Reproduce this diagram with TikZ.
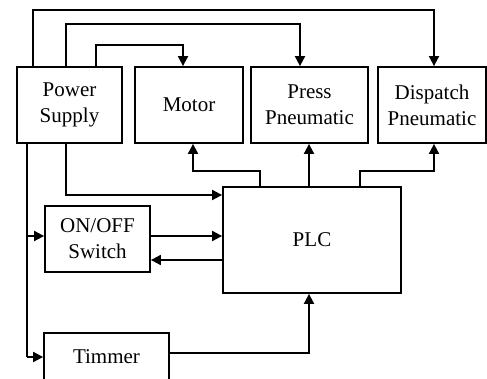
\documentclass[tikz,border=0pt]{standalone}
\usepackage{fontspec}
\setmainfont{Liberation Serif}
\usetikzlibrary{arrows.meta}
\begin{document}
\begin{tikzpicture}[x=1pt,y=-1pt,
  blk/.style={draw,line width=1.8pt,inner sep=0pt,align=center,
    font=\fontsize{21}{26}\selectfont},
  arr/.style={line width=1.8pt,-{Triangle[length=10pt,width=10pt]}},
  ln/.style={line width=1.8pt}]
\useasboundingbox (0,0) rectangle (487,379);
\node[blk,minimum width=105pt,minimum height=76pt] (ps) at (69.5,105) {Power\\Supply};
\node[blk,minimum width=108pt,minimum height=76pt] (motor) at (189,105) {Motor};
\node[blk,minimum width=117pt,minimum height=76pt] (press) at (309.5,105) {Press\\Pneumatic};
\node[blk,minimum width=108pt,minimum height=76pt] (disp) at (432,105) {Dispatch\\Pneumatic};
\node[blk,minimum width=178pt,minimum height=106pt] (plc) at (312,240) {PLC};
\node[blk,minimum width=105pt,minimum height=66pt] (sw) at (97.5,239) {ON/OFF\\Switch};
\node[blk,minimum width=125pt,minimum height=48pt] (tim) at (106.5,357) {Timmer};
% coordinates
\coordinate (r1) at (33,10);  \coordinate (r1e) at (434,10);
\coordinate (r2) at (66,24);  \coordinate (r2e) at (300,24);
\coordinate (r3) at (96,45);  \coordinate (r3e) at (183,45);
\coordinate (b1) at (66,195);
\coordinate (bus) at (27,357);
\coordinate (bs) at (27,236);
\coordinate (s2) at (0,260);
\coordinate (tc) at (309,353);
\coordinate (m1) at (260,171); \coordinate (m2) at (193,171);
\coordinate (pp) at (309,0);
\coordinate (d1) at (360,171); \coordinate (d2) at (434,171);
% top feeds
\draw[arr] (ps.north -| r1) -- (r1) -- (r1e) -- (disp.north -| r1e);
\draw[arr] (ps.north -| r2) -- (r2) -- (r2e) -- (press.north -| r2e);
\draw[arr] (ps.north -| r3) -- (r3) -- (r3e) -- (motor.north -| r3e);
% power to PLC
\draw[arr] (ps.south -| b1) -- (b1) -- (plc.west |- b1);
% left bus
\draw[ln] (ps.south -| bus) -- (bus);
\draw[arr] (bus) -- (tim.west |- bus);
\draw[arr] (bs) -- (sw.west |- bs);
% switch <-> PLC
\draw[arr] (sw.east |- bs) -- (plc.west |- bs);
\draw[arr] (plc.west |- s2) -- (sw.east |- s2);
% timer to PLC
\draw[arr] (tim.east |- tc) -- (tc) -- (plc.south -| tc);
% PLC outputs
\draw[arr] (plc.north -| m1) -- (m1) -- (m2) -- (motor.south -| m2);
\draw[arr] (plc.north -| pp) -- (press.south -| pp);
\draw[arr] (plc.north -| d1) -- (d1) -- (d2) -- (disp.south -| d2);
\end{tikzpicture}
\end{document}
